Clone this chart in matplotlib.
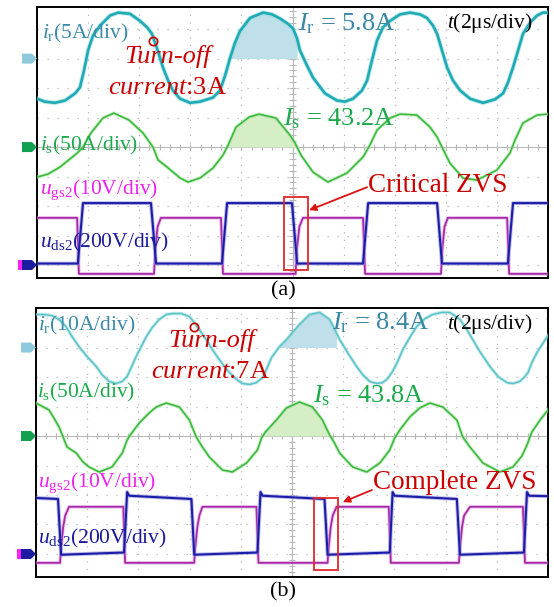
import numpy as np
import matplotlib
matplotlib.use("Agg")
import matplotlib.pyplot as plt
import matplotlib.patheffects as pe
from matplotlib.patches import Polygon, Rectangle
from matplotlib.transforms import IdentityTransform

plt.rcParams['font.family'] = ['Liberation Serif', 'DejaVu Serif']
plt.rcParams['mathtext.fontset'] = 'custom'
plt.rcParams['mathtext.rm'] = 'Liberation Serif'
plt.rcParams['mathtext.it'] = 'Liberation Serif:italic'

# ---------------- (a) waveforms, time in us ----------------
t_ir_a = [0.00, 0.31, 0.70, 1.10, 1.49, 1.68, 1.84, 2.00, 2.19, 2.47, 2.86, 3.17, 3.64, 4.03,
          4.31, 4.50, 4.70, 4.93, 5.13, 5.32, 5.60, 5.99, 6.38, 6.89, 7.16, 7.36, 7.55, 7.75,
          7.95, 8.34, 8.85, 9.20, 9.51, 9.82, 10.02, 10.18, 10.29, 10.57, 10.80, 11.27, 11.74,
          12.05, 12.37, 12.72, 12.92, 13.11, 13.31, 13.54, 13.82, 14.21, 14.60, 14.99, 15.26,
          15.50, 15.66, 15.85, 16.05, 16.28, 16.56, 16.95, 17.46, 17.93, 18.24, 18.43, 18.63,
          18.83, 19.02, 19.30, 19.57, 19.80, 20.00]
ir_a = [-6.8, -7.3, -7.5, -7.1, -5.9, -4.9, -2.0, 1.4, 3.9, 5.6, 7.3, 7.8, 7.6, 6.4,
        5.3, 4.2, 1.7, -1.5, -3.7, -5.4, -6.8, -7.5, -7.3, -6.6, -5.4, -2.9, 0.0, 2.7,
        4.7, 6.9, 7.8, 7.5, 6.8, 5.9, 5.1, 3.4, 1.4, -1.2, -3.2, -5.9, -7.1,
        -7.3, -6.8, -5.4, -3.7, -0.3, 3.1, 5.3, 6.4, 7.5, 7.8, 7.5, 6.9,
        5.6, 4.2, 1.4, -1.5, -3.7, -5.4, -6.8, -7.5, -6.9, -5.9, -4.1, -1.5,
        1.4, 4.2, 6.1, 7.3, 7.8, 7.8]

t_is_a = [0.00, 0.43, 0.90, 1.57, 1.80, 2.11, 2.58, 3.01, 3.60, 4.15, 4.54, 4.74, 5.09, 5.60,
          5.91, 6.38, 6.89, 7.28, 7.48, 7.79, 8.30, 8.69, 9.35, 9.90, 10.10, 10.33, 10.80,
          11.39, 12.13, 12.76, 13.03, 13.31, 13.82, 14.21, 14.87, 15.38, 15.66, 15.85, 16.16,
          16.67, 17.22, 18.00, 18.51, 18.71, 19.02, 19.57, 20.00]
is_a = [-50.9, -45.8, -33.9, -10.2, 0.0, 23.7, 49.2, 57.6, 45.8, 23.7, 0.0, -22.0, -33.9, -52.5,
        -59.3, -52.5, -35.6, -13.6, 3.4, 33.9, 50.9, 55.9, 49.2, 20.3, 6.8, -13.6, -42.4,
        -59.3, -44.1, -16.9, 3.4, 28.8, 49.2, 55.9, 54.2, 33.9, 16.9, 0.0, -27.1,
        -52.5, -55.9, -39.0, -10.2, 11.9, 40.7, 54.2, 55.9]

t_ugs_a = [0.00, 1.57, 1.64, 4.58, 4.64, 4.72, 4.85, 7.20, 7.28, 10.12, 10.18, 10.27, 10.41,
           12.76, 12.84, 15.81, 15.87, 15.95, 16.08, 18.40, 18.48, 20.00]
ugs_a = [16, 16, -3, -3, 6, 13, 16, 16, -3, -3, 6, 13, 16, 16, -3, -3, 6, 13, 16, 16, -3, -3]

t_uds_a = [0.00, 1.60, 1.80, 4.46, 4.66, 7.24, 7.44, 9.98, 10.18, 12.76, 12.96, 15.66, 15.85,
           18.43, 18.63, 20.00]
uds_a = [10, 10, 420, 420, 10, 10, 420, 420, 10, 10, 420, 420, 10, 10, 420, 420]

# ---------------- (b) waveforms ----------------
t_ir_b = [0.00, 0.31, 0.63, 0.90, 1.17, 1.41, 1.68, 2.00, 2.35, 2.58, 2.86, 3.13, 3.37, 3.56,
          3.72, 3.91, 4.11, 4.31, 4.54, 4.81, 5.09, 5.32, 5.68, 5.99, 6.18, 6.38, 6.65, 6.89,
          7.16, 7.48, 7.83, 8.06, 8.34, 8.61, 8.85, 9.00, 9.20, 9.51, 9.79, 10.02, 10.29,
          10.69, 11.08, 11.47, 11.66, 11.86, 12.17, 12.52, 12.76, 13.03, 13.31, 13.54, 13.74,
          13.93, 14.13, 14.33, 14.60, 14.87, 15.19, 15.50, 15.85, 16.16, 16.36, 16.56, 16.83,
          17.06, 17.34, 17.73, 18.04, 18.40, 18.63, 18.90, 19.06, 19.22, 19.37, 19.57, 19.77,
          20.00]
ir_b = [11.2, 11.2, 10.8, 9.5, 7.1, 3.7, 0.3, -3.1, -6.4, -9.2, -11.5, -12.2, -11.5, -9.8,
        -6.8, -3.1, 0.3, 3.7, 6.8, 9.5, 11.2, 11.5, 11.5, 10.5, 8.5, 6.1, 2.7, -0.7,
        -4.1, -7.8, -10.8, -12.2, -12.5, -11.9, -10.2, -7.5, -3.4, 0.3, 2.7, 5.1, 7.8,
        11.2, 11.9, 9.5, 6.4, 2.7, -1.7, -6.4, -9.2, -11.5, -12.2, -11.9, -10.5,
        -8.1, -4.7, -0.7, 3.4, 7.1, 9.8, 11.2, 11.9, 11.9, 10.8, 9.5, 6.1,
        2.7, -1.4, -6.4, -9.8, -11.9, -12.2, -11.5, -10.2, -8.5, -5.1, -1.7, 1.0,
        4.1]

t_is_b = [0.00, 0.51, 0.70, 0.90, 1.06, 1.21, 1.57, 1.84, 2.07, 2.47, 2.97, 3.37, 3.56, 3.68,
          4.03, 4.42, 4.70, 5.09, 5.60, 5.99, 6.26, 6.50, 6.77, 7.28, 7.67, 8.22, 8.65, 8.81,
          8.96, 9.39, 9.78, 10.29, 10.80, 11.19, 11.47, 11.66, 11.86, 12.37, 12.92, 13.43,
          13.82, 14.01, 14.21, 14.60, 14.99, 15.38, 15.89, 16.44, 16.67, 16.95, 17.46, 18.12,
          18.63, 18.98, 19.18, 19.37, 19.69, 20.00]
is_b = [55.9, 44.1, 30.5, 15.3, -1.7, -18.6, -28.8, -44.1, -52.5, -61.0, -52.5, -28.8, -6.8, 1.7,
        22.0, 39.0, 49.2, 55.9, 49.2, 27.1, -1.7, -18.6, -35.6, -57.6, -61.0, -45.8, -23.7, -3.4,
        6.8, 27.1, 47.5, 57.6, 49.2, 27.1, 1.7, -11.9, -28.8, -52.5, -61.0, -45.8,
        -23.7, -3.4, 10.2, 32.2, 47.5, 55.9, 49.2, 27.1, -1.7, -18.6, -45.8, -61.0,
        -52.5, -33.9, -15.3, 6.8, 27.1, 44.1]

t_ugs_b = [0.00, 0.94, 0.98, 1.06, 1.14, 1.29, 3.41, 3.48, 6.18, 6.22, 6.30, 6.38, 6.50,
           8.61, 8.69, 11.39, 11.43, 11.51, 11.59, 11.74, 13.78, 13.86, 16.52, 16.56, 16.64,
           16.72, 16.95, 19.02, 19.10, 20.00]
ugs_b = [-3, -3, 2, 9, 13, 16, 16, -3, -3, 2, 9, 13, 16, 16, -3, -3, 2, 9, 13, 16, 16, -3,
         -3, 2, 9, 13, 16, 16, -3, -3]

t_uds_b = [0.00, 0.86, 0.98, 3.44, 3.56, 3.64, 6.07, 6.18, 8.65, 8.77, 8.85, 11.27, 11.39,
           13.82, 13.93, 14.01, 16.44, 16.56, 19.06, 19.18, 19.26, 20.00]
uds_b = [380, 373, -5, 10, 420, 395, 373, -5, 10, 420, 395, 373, -5, 10, 420, 395, 373, -5,
         10, 420, 395, 392]

# scope settings: amps/volts per division and trace ground (in divisions)
scale_a = {'ir': 5, 'is': 50, 'ugs': 10, 'uds': 200}
scale_b = {'ir': 10, 'is': 50, 'ugs': 10, 'uds': 200}
ground = {'ir': 3, 'is': 0, 'u': -4}

C_IR_A, C_IR_B = '#1fabb5', '#5cc3c8'
C_IS = '#3cbb3c'
C_UGS = '#a82aa8'
C_UDS = '#1c1ca8'
C_RED = '#cc0000'
GRID = '#b8b8b8'

W, H = 554, 607
fig = plt.figure(figsize=(W / 100, H / 100), dpi=100)
ax_a = fig.add_axes([37 / W, 1 - 278 / H, 511 / W, 271 / H])
ax_b = fig.add_axes([36 / W, 1 - 577 / H, 512 / W, 269 / H])
ax_a.set_ylim(-4.44, 4.75)
ax_b.set_ylim(-4.78, 4.34)


def div(vals, per_div, gnd):
    return np.asarray(vals, dtype=float) / per_div + gnd


def scope_grid(ax):
    ylo, yhi = ax.get_ylim()
    ax.set_xlim(0, 20)
    for k in range(1, 10):
        ax.axvline(2 * k, color=GRID, lw=0.9, ls=(0, (1, 5)), zorder=0)
    for k in range(int(np.ceil(ylo)), int(np.floor(yhi)) + 1):
        if k != 0:
            ax.axhline(k, color=GRID, lw=0.9, ls=(0, (1, 7)), zorder=0)
    ax.axhline(0, color=GRID, lw=0.8, zorder=0)
    ax.axvline(10, color=GRID, lw=0.8, zorder=0)
    ax.vlines(np.arange(0.4, 20, 0.4), -0.1, 0.1, color=GRID, lw=0.8, zorder=0)
    ax.hlines(np.arange(np.ceil(ylo / 0.2) * 0.2, yhi, 0.2), 9.88, 10.12,
              color=GRID, lw=0.8, zorder=0)
    ax.set_xticks([])
    ax.set_yticks([])
    for s in ax.spines.values():
        s.set_linewidth(1.4)
        s.set_color('black')


def shade(ax, t, v, gnd, t0, t1, color):
    t = np.asarray(t)
    inside = (t > t0) & (t < t1)
    tt = np.r_[t0, t[inside], t1]
    vv = np.interp(tt, t, v)
    ax.fill_between(tt, gnd, vv, color=color, lw=0, zorder=1)


def ch_marker(ax, gnd, color, strip=None):
    x0 = ax.transAxes.transform((0, 0))[0]
    y = ax.transData.transform((0, gnd))[1]
    pts = [(x0 - 15, y - 5), (x0 - 5, y - 5), (x0, y), (x0 - 5, y + 5), (x0 - 15, y + 5)]
    fig.add_artist(Polygon(pts, closed=True, transform=IdentityTransform(), fc=color, ec='none'))
    if strip:
        fig.add_artist(Rectangle((x0 - 19, y - 5), 4, 10, transform=IdentityTransform(),
                                 fc=strip, ec='none'))


def trace(ax, t, v, color, lw, halo):
    # faint wider stroke under the core line, like a noisy scope trace
    ax.plot(t, v, color=color, lw=lw, zorder=3,
            path_effects=[pe.Stroke(linewidth=lw + 1.4, foreground=halo, alpha=0.55), pe.Normal()])


def draw_panel(ax, sc, t_ir, ir, t_is, i_s, t_ugs, ugs, t_uds, uds, c_ir, lw_ir, sh_ir, sh_is):
    scope_grid(ax)
    v_ir = div(ir, sc['ir'], ground['ir'])
    v_is = div(i_s, sc['is'], ground['is'])
    shade(ax, t_ir, v_ir, ground['ir'], sh_ir[0], sh_ir[1], '#bfdfea')
    shade(ax, t_is, v_is, ground['is'], sh_is[0], sh_is[1], '#d6eec6')
    trace(ax, t_ir, v_ir, c_ir, lw_ir, '#8fd8dc')
    trace(ax, t_is, v_is, C_IS, 1.2, '#a8e0a8')
    trace(ax, t_ugs, div(ugs, sc['ugs'], ground['u']), C_UGS, 1.3, '#e0a0e0')
    trace(ax, t_uds, div(uds, sc['uds'], ground['u']), C_UDS, 1.5, '#8c8cd8')
    ch_marker(ax, ground['ir'], '#8ecadc')
    ch_marker(ax, ground['is'], '#12a050')
    ch_marker(ax, ground['u'], '#1c1ca0', strip='#ff22ff')


draw_panel(ax_a, scale_a, t_ir_a, ir_a, t_is_a, is_a, t_ugs_a, ugs_a, t_uds_a, uds_a,
           C_IR_A, 1.9, (7.55, 10.18), (7.44, 10.18))
draw_panel(ax_b, scale_b, t_ir_b, ir_b, t_is_b, is_b, t_ugs_b, ugs_b, t_uds_b, uds_b,
           C_IR_B, 1.1, (9.50, 11.74), (8.84, 11.40))

# turn-off points
ax_a.plot(4.54, div(3, scale_a['ir'], ground['ir']), 'o', mfc='none', mec=C_RED, ms=6, mew=1.2, zorder=5)
ax_b.plot(6.18, div(7, scale_b['ir'], ground['ir']), 'o', mfc='none', mec=C_RED, ms=6, mew=1.2, zorder=5)

kw = dict(ha='left', va='center', zorder=6)
# (a) labels
ax_a.text(0.20, 3.86, r'$i_{\mathrm{r}}$(5A/div)', color='#3a8aa8', fontsize=15.5, **kw)
ax_a.text(5.11, 3.08, 'Turn-off', color=C_RED, fontsize=19, style='italic', ha='center', va='center')
ax_a.text(5.11, 2.00, r'$\mathit{current}$:3A', color=C_RED, fontsize=19, ha='center', va='center')
ax_a.text(10.22, 4.20, r'$I_{\mathrm{r}}$ = 5.8A', color='#3a86a4', fontsize=19, **kw)
ax_a.text(16.05, 4.20, r'$t$(2μs/div)', color='black', fontsize=15.5, **kw)
ax_a.text(0.12, 0.07, r'$i_{\mathrm{s}}$(50A/div)', color='#1aaa4a', fontsize=15.5, **kw)
ax_a.text(9.63, 0.95, r'$I_{\mathrm{s}}$ = 43.2A', color='#1aaa4a', fontsize=19, **kw)
ax_a.text(0.12, -1.46, r'$u_{\mathrm{gs2}}$(10V/div)', color='#ee22ee', fontsize=15.5, **kw)
ax_a.text(0.12, -3.25, r'$u_{\mathrm{ds2}}$(200V/div)', color='#1a1a9a', fontsize=15.5, **kw)
ax_a.text(12.96, -1.29, 'Critical ZVS', color=C_RED, fontsize=19.5, **kw)
ax_a.add_patch(Rectangle((9.67, -4.17), 0.94, 2.48, fill=False, ec='#e02828', lw=1.3, zorder=6))
ax_a.annotate('', xy=(10.65, -2.14), xytext=(12.92, -1.36),
              arrowprops=dict(arrowstyle='-|>', color='#dd1111', lw=1.3, mutation_scale=10,
                              shrinkA=0, shrinkB=0), zorder=6)

# (b) labels
ax_b.text(0.08, 3.76, r'$i_{\mathrm{r}}$(10A/div)', color='#3a8aa8', fontsize=15.5, **kw)
ax_b.text(6.87, 3.25, 'Turn-off', color=C_RED, fontsize=19, style='italic', ha='center', va='center')
ax_b.text(6.80, 2.17, r'$\mathit{current}$:7A', color=C_RED, fontsize=19, ha='center', va='center')
ax_b.text(11.56, 3.83, r'$I_{\mathrm{r}}$ = 8.4A', color='#3a86a4', fontsize=19, **kw)
ax_b.text(16.05, 3.80, r'$t$(2μs/div)', color='black', fontsize=15.5, **kw)
ax_b.text(0.04, 1.46, r'$i_{\mathrm{s}}$(50A/div)', color='#1aaa4a', fontsize=15.5, **kw)
ax_b.text(10.82, 1.36, r'$I_{\mathrm{s}}$ = 43.8A', color='#1aaa4a', fontsize=19, **kw)
ax_b.text(0.08, -1.59, r'$u_{\mathrm{gs2}}$(10V/div)', color='#ee22ee', fontsize=15.5, **kw)
ax_b.text(0.08, -3.46, r'$u_{\mathrm{ds2}}$(200V/div)', color='#1a1a9a', fontsize=15.5, **kw)
ax_b.text(13.16, -1.56, 'Complete ZVS', color=C_RED, fontsize=19.5, **kw)
ax_b.add_patch(Rectangle((10.86, -4.54), 0.94, 2.44, fill=False, ec='#e02828', lw=1.3, zorder=6))
ax_b.annotate('', xy=(11.99, -2.24), xytext=(13.12, -1.83),
              arrowprops=dict(arrowstyle='-|>', color='#dd1111', lw=1.3, mutation_scale=10,
                              shrinkA=0, shrinkB=0), zorder=6)

fig.text(283 / W, 1 - 291 / H, '(a)', ha='center', va='center', fontsize=16)
fig.text(283 / W, 1 - 592 / H, '(b)', ha='center', va='center', fontsize=16)

fig.savefig('out.png', dpi=100)
